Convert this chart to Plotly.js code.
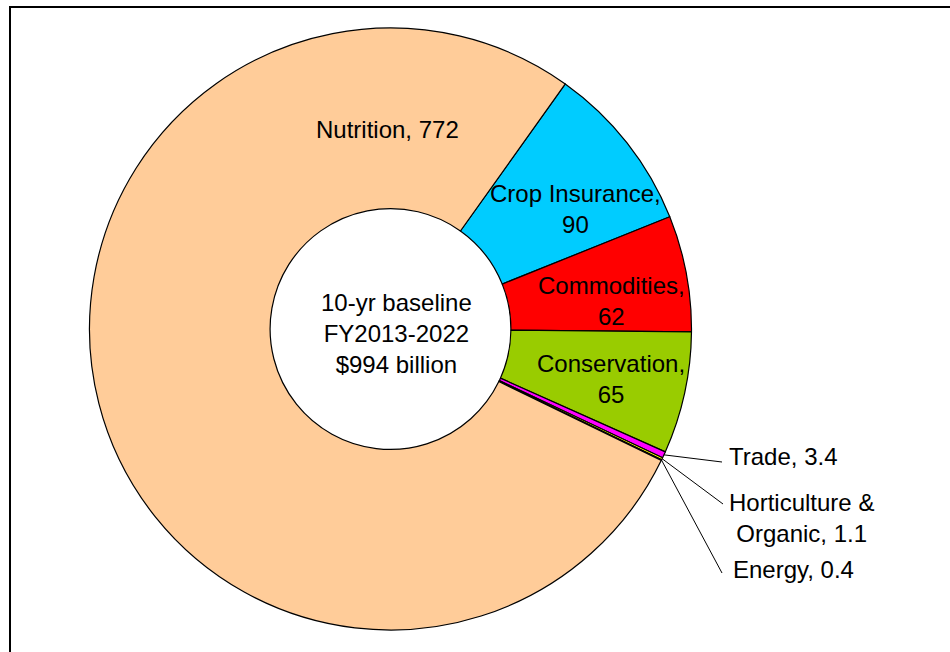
<!DOCTYPE html>
<html><head><meta charset="utf-8">
<script src="https://cdn.plot.ly/plotly-3.0.1.min.js"></script>
<style>html,body{margin:0;padding:0;background:#fff}#chart{width:950px;height:652px}</style>
</head><body><div id="chart"></div>
<script>
// ---- data ----
const categories = ['Crop Insurance', 'Commodities', 'Conservation', 'Trade', 'Horticulture & Organic', 'Energy', 'Nutrition'];
const labelNames = ['Crop Insurance,<br>', 'Commodities,<br>', 'Conservation,<br>', 'Trade, ', 'Horticulture &<br>Organic, ', 'Energy, ', 'Nutrition, '];
const values = [90, 62, 65, 3.4, 1.1, 0.4, 772];
const centerLines = ['10-yr baseline', 'FY2013-2022', '$994 billion'];

// ---- styles / layout ----
const colors = ['#00CCFF', '#FF0000', '#99CC00', '#FF00FF', '#FFFF00', '#333399', '#FFCC99'];
const W = 950, H = 652;
const CX = 390.5, CY = 329, R = 301;
const ROT = 35.5;
// label anchor positions in pixels (centre of text block)
const labelPos = [[575, 209], [611, 301], [611, 379], [783, 456], [801, 518], [793.5, 569], [387, 130]];
// leader-line outer ends (only for small slices)
const leaderEnd = {3: [722, 462], 4: [723, 504], 5: [722, 573]};
const FONT = 'Liberation Sans, Arial, sans-serif';
const FS = 24;

const px2x = p => p / W;
const py2y = p => 1 - p / H;

const total = values.reduce((a, b) => a + b, 0);
const annotations = [];
const shapes = [];
let cum = 0;
values.forEach((v, i) => {
  const mid = ROT + (cum + v / 2) / total * 360;
  cum += v;
  annotations.push({
    x: px2x(labelPos[i][0]), y: py2y(labelPos[i][1]), xref: 'paper', yref: 'paper',
    text: labelNames[i] + String(v), showarrow: false, xanchor: 'center', yanchor: 'middle',
    align: 'center', borderpad: 0, font: {family: FONT, size: FS, color: '#000'}
  });
  if (leaderEnd[i]) {
    const a = mid * Math.PI / 180;
    const tx = CX + R * Math.sin(a), ty = CY - R * Math.cos(a);
    shapes.push({type: 'line', xref: 'paper', yref: 'paper',
      x0: px2x(tx), y0: py2y(ty), x1: px2x(leaderEnd[i][0]), y1: py2y(leaderEnd[i][1]),
      line: {color: '#000', width: 1}});
  }
});
annotations.push({
  x: px2x(396), y: py2y(333), xref: 'paper', yref: 'paper', text: centerLines.join('<br>'),
  showarrow: false, xanchor: 'center', yanchor: 'middle', align: 'center', borderpad: 0,
  font: {family: FONT, size: FS, color: '#000'}
});
shapes.push({type: 'rect', xref: 'paper', yref: 'paper',
  x0: px2x(10), x1: px2x(970), y0: py2y(672), y1: py2y(7),
  line: {color: '#000', width: 2}, fillcolor: 'rgba(0,0,0,0)'});

const trace = {
  type: 'pie', labels: categories, values: values, sort: false, direction: 'clockwise',
  rotation: ROT, hole: 0.40, textinfo: 'none', hoverinfo: 'none',
  marker: {colors: colors, line: {color: '#000', width: 1.2}},
  domain: {x: [px2x(CX - R), px2x(CX + R)], y: [py2y(CY + R), py2y(CY - R)]}
};

Plotly.newPlot('chart', [trace], {
  width: W, height: H, margin: {l: 0, r: 0, t: 0, b: 0},
  paper_bgcolor: '#fff', showlegend: false, annotations: annotations, shapes: shapes,
  font: {family: FONT}
}, {staticPlot: true, displayModeBar: false});
</script>
</body></html>
